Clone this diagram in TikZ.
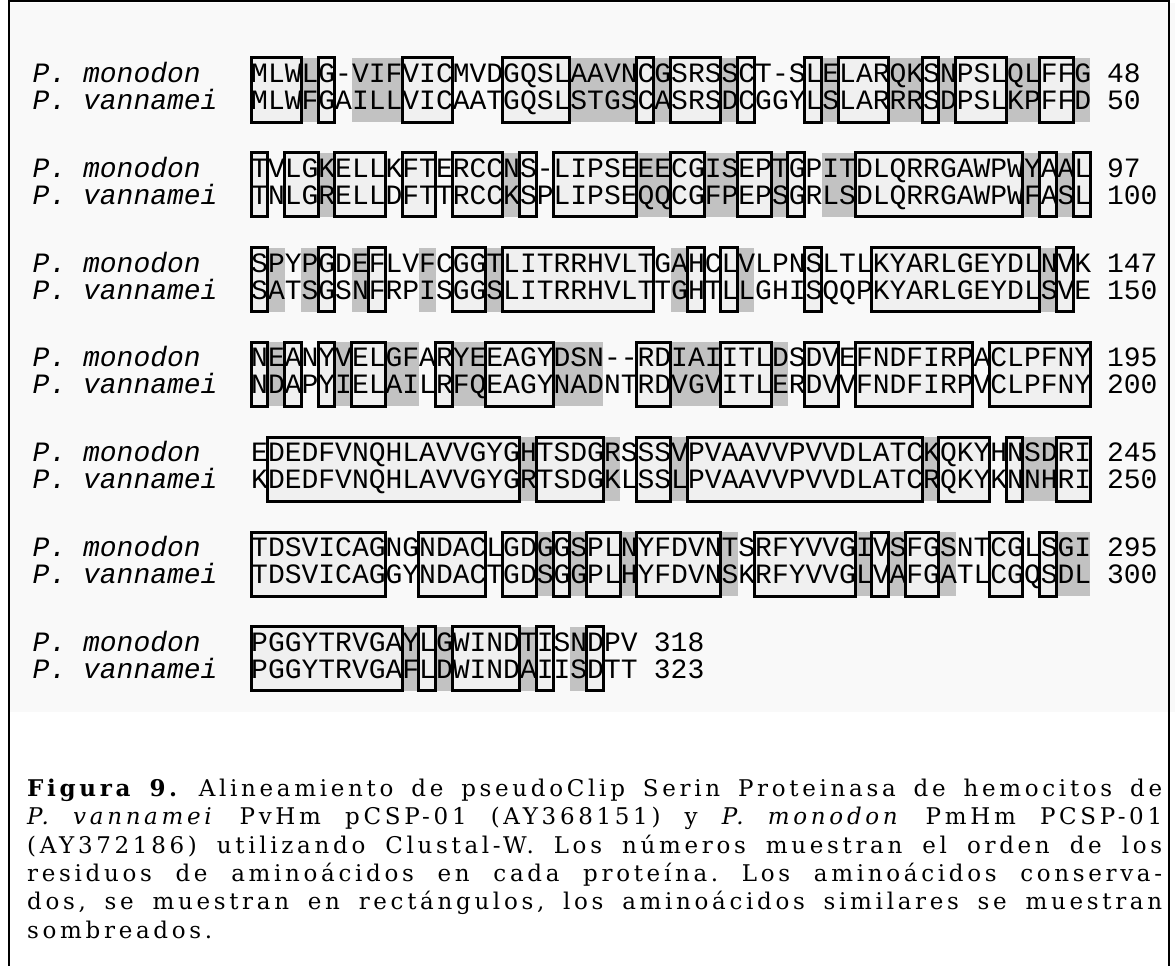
\documentclass[tikz,border=0pt]{standalone}
\usepackage{fontspec}
\setmonofont{Liberation Mono}
\newfontfamily\capfont[LetterSpace=16]{DejaVu Serif}
\usepackage{xcolor}
\usetikzlibrary{positioning}

\definecolor{panelgray}{gray}{0.975}
\definecolor{boxgray}{gray}{0.94}
\definecolor{simgray}{gray}{0.76}

% similar residues (shaded columns), block/columns
\def\simcols{1/{4,7,8,9,20,21,22,23,25,29,35,39,40,42,46,47,50},%
2/{5,16,24,25,28,29,32,35,36,47,49},%
3/{2,4,7,11,15,26,30,48},%
4/{2,6,9,10,13,14,19,20,21,26,27,28,32},%
5/{17,22,26,41,47,48},%
6/{18,20,23,29,37,39,42,49,50},%
7/{10,12,17,20}}

% conserved residues (boxed runs), block/first/last
\def\concols{1/{1/3,5/5,10/12,16/19,24/24,26/28,30/30,34/34,36/38,41/41,43/45,48/49},%
2/{1/1,3/4,6/8,10/11,13/15,17/17,19/23,26/27,30/31,33/33,37/46,48/48,50/50},%
3/{1/1,5/5,8/8,13/14,16/24,27/27,29/29,34/34,38/47,49/49},%
4/{1/1,3/3,5/5,7/8,12/12,15/18,24/25,29/31,34/35,37/43,45/50},%
5/{2/16,18/21,24/25,27/40,42/44,46/46,49/50},%
6/{1/8,11/14,16/17,19/19,21/22,24/28,31/36,38/38,40/41,45/46,48/48},%
7/{1/9,11/11,13/16,18/18,21/21}}

\begin{document}
\begin{tikzpicture}[x=1pt, y=-1pt,
    seq/.style={anchor=base west, inner sep=0pt, font=\ttfamily\fontsize{28}{28}\selectfont},
    species/.style={anchor=base west, inner sep=0pt, font=\ttfamily\itshape\fontsize{28}{28}\selectfont},
    similar/.style={fill=simgray},
    conserved/.style={fill=boxgray},
    outline/.style={draw=black, line width=3pt},
    frame/.style={draw=black, line width=2pt}
]
\useasboundingbox (0,0) rectangle (1175,966);

% Panel of the alignment
\fill[panelgray] (10,3) rectangle (1175,712);

% Shaded columns
\foreach \b/\cols in \simcols {
  \pgfmathsetmacro{\yt}{58+(\b-1)*94.83}
  \foreach \c in \cols
    \fill[similar] ({251+(\c-1)*16.78},\yt) rectangle ({251+\c*16.78},{\yt+64});
}

% Conserved boxes (fill)
\foreach \b/\runs in \concols {
  \pgfmathsetmacro{\yt}{58+(\b-1)*94.83}
  \foreach \s/\e in \runs
    \fill[conserved] ({251+(\s-1)*16.78},\yt) rectangle ({251+\e*16.78},{\yt+64});
}

% Species labels
\foreach \b in {1,...,7} {
  \pgfmathsetmacro{\ym}{82.5+(\b-1)*94.83}
  \node[species] (sm\b) at (32.5,\ym) {P. monodon};
  \node[species] (sv\b) at (32.5,{\ym+27}) {P. vannamei};
}

% Sequences
\node[seq] (m1) at (251,82.5) {MLWLG-VIFVICMVDGQSLAAVNCGSRSSCT-SLELARQKSNPSLQLFFG};
\node[seq] (v1) at (251,109.5) {MLWFGAILLVICAATGQSLSTGSCASRSDCGGYLSLARRRSDPSLKPFFD};
\node[seq] (m2) at (251,177.33) {TVLGKELLKFTERCCNS-LIPSEEECGISEPTGPITDLQRRGAWPWYAAL};
\node[seq] (v2) at (251,204.33) {TNLGRELLDFTTRCCKSPLIPSEQQCGFPEPSGRLSDLQRRGAWPWFASL};
\node[seq] (m3) at (251,272.16) {SPYPGDEFLVFCGGTLITRRHVLTGAHCLVLPNSLTLKYARLGEYDLNVK};
\node[seq] (v3) at (251,299.16) {SATSGSNFRPISGGSLITRRHVLTTGHTLLGHISQQPKYARLGEYDLSVE};
\node[seq] (m4) at (251,366.99) {NEANYVELGFARYEEAGYDSN-{}-RDIAIITLDSDVEFNDFIRPACLPFNY};
\node[seq] (v4) at (251,393.99) {NDAPYIELAILRFQEAGYNADNTRDVGVITLERDVVFNDFIRPVCLPFNY};
\node[seq] (m5) at (251,461.82) {EDEDFVNQHLAVVGYGHTSDGRSSSVPVAAVVPVVDLATCKQKYHNSDRI};
\node[seq] (v5) at (251,488.82) {KDEDFVNQHLAVVGYGRTSDGKLSSLPVAAVVPVVDLATCRQKYKNNHRI};
\node[seq] (m6) at (251,556.65) {TDSVICAGNGNDACLGDGGSPLNYFDVNTSRFYVVGIVSFGSNTCGLSGI};
\node[seq] (v6) at (251,583.65) {TDSVICAGGYNDACTGDSGGPLHYFDVNSKRFYVVGLVAFGATLCGQSDL};
\node[seq] (m7) at (251,651.48) {PGGYTRVGAYLGWINDTISNDPV};
\node[seq] (v7) at (251,678.48) {PGGYTRVGAFLDWINDAIISDTT};

% Residue numbers
\node[seq] (nm1) at (1106.8,82.5) {48};
\node[seq] (nv1) at (1106.8,109.5) {50};
\node[seq] (nm2) at (1106.8,177.33) {97};
\node[seq] (nv2) at (1106.8,204.33) {100};
\node[seq] (nm3) at (1106.8,272.16) {147};
\node[seq] (nv3) at (1106.8,299.16) {150};
\node[seq] (nm4) at (1106.8,366.99) {195};
\node[seq] (nv4) at (1106.8,393.99) {200};
\node[seq] (nm5) at (1106.8,461.82) {245};
\node[seq] (nv5) at (1106.8,488.82) {250};
\node[seq] (nm6) at (1106.8,556.65) {295};
\node[seq] (nv6) at (1106.8,583.65) {300};
\node[seq] (nm7) at (653.7,651.48) {318};
\node[seq] (nv7) at (653.7,678.48) {323};

% Conserved boxes (outline)
\foreach \b/\runs in \concols {
  \pgfmathsetmacro{\yt}{58+(\b-1)*94.83}
  \foreach \s/\e in \runs
    \draw[outline] ({251+(\s-1)*16.78},\yt) rectangle ({251+\e*16.78},{\yt+64});
}

% Caption
\node[anchor=north west, inner sep=0pt, align=left,
      font=\capfont\fontsize{23}{28.3}\selectfont\frenchspacing] (cap) at (27,779) {%
\makebox[1135pt][s]{\textbf{Figura 9.} Alineamiento de pseudoClip Serin Proteinasa de hemocitos de}\\
\makebox[1135pt][s]{\textit{P. vannamei} PvHm pCSP-01 (AY368151) y \textit{P. monodon} PmHm PCSP-01}\\
\makebox[1135pt][s]{(AY372186) utilizando Clustal-W. Los números muestran el orden de los}\\
\makebox[1135pt][s]{residuos de aminoácidos en cada proteína. Los aminoácidos conserva-}\\
\makebox[1135pt][s]{dos, se muestran en rectángulos, los aminoácidos similares se muestran}\\
sombreados.};

% Frame
\draw[frame] (8.5,970) -- (8.5,1.5) -- (1169,1.5) -- (1169,970);

\end{tikzpicture}
\end{document}
